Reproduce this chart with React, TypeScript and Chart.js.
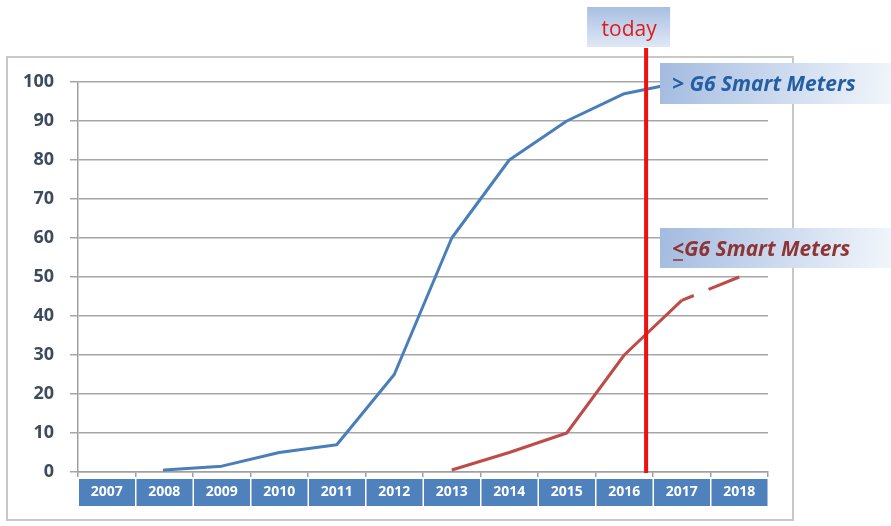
import React, { useEffect, useRef } from 'react';
import { Chart, registerables } from 'chart.js';

Chart.register(...registerables);

const years = ['2007', '2008', '2009', '2010', '2011', '2012', '2013', '2014', '2015', '2016', '2017', '2018'];
const aboveG6 = [null, 0.5, 1.5, 5, 7, 25, 60, 80, 90, 97, 100, null];
const belowG6 = [null, null, null, null, null, null, 0.5, 5, 10, 30, 44, 50];
const yMin = 0;
const yMax = 100;
const yStep = 10;
const todayIndex = 9.38;
const todayLabel = 'today';
const aboveLabel = '> G6 Smart Meters';
const belowLabel = '<G6 Smart Meters';
const forecastFromIndex = 10;

const FONT = '"Open Sans", "Noto Sans", sans-serif';

const decor = {
  id: 'decor',
  beforeDraw(chart: any) {
    const ctx = chart.ctx;
    const xs = chart.scales.x;
    ctx.save();
    ctx.fillStyle = '#ffffff';
    ctx.fillRect(0, 0, chart.width, chart.height);
    ctx.strokeStyle = '#c8c8c8';
    ctx.lineWidth = 2;
    ctx.strokeRect(7, 57, 786, 463);
    const top = chart.chartArea.bottom + 7;
    for (let i = 0; i < years.length; i++) {
      const l = xs.getPixelForValue(i - 0.5);
      const r = xs.getPixelForValue(i + 0.5);
      ctx.fillStyle = '#4f81bd';
      ctx.fillRect(l + 1, top, r - l - 1.5, 27);
    }
    ctx.restore();
  },
  afterDatasetsDraw(chart: any) {
    const ctx = chart.ctx;
    const xs = chart.scales.x;
    const area = chart.chartArea;
    ctx.save();
    // today line
    const tx = xs.getPixelForValue(todayIndex);
    ctx.strokeStyle = '#ee1111';
    ctx.lineWidth = 4;
    ctx.beginPath();
    ctx.moveTo(tx, 48);
    ctx.lineTo(tx, area.bottom + 1);
    ctx.stroke();

    // today box
    const g1 = ctx.createLinearGradient(0, 7, 0, 47);
    g1.addColorStop(0, '#a9bfe2');
    g1.addColorStop(1, '#dfe8f5');
    ctx.fillStyle = g1;
    ctx.fillRect(tx - 59, 7, 83, 40);
    ctx.fillStyle = '#e01b1b';
    ctx.font = `21px ${FONT}`;
    ctx.textAlign = 'center';
    ctx.textBaseline = 'alphabetic';
    ctx.fillText(todayLabel, tx - 17, 36);

    // callout boxes
    const drawBox = (y0: number, h: number) => {
      const g = ctx.createLinearGradient(660, y0, 891, y0 + h);
      g.addColorStop(0, '#a3bbe0');
      g.addColorStop(0.6, '#d3dff1');
      g.addColorStop(1, '#f2f6fb');
      ctx.fillStyle = g;
      ctx.fillRect(660, y0, 231, h);
    };
    drawBox(63, 41);
    drawBox(228, 40);
    ctx.textAlign = 'left';
    ctx.font = `italic bold 21px ${FONT}`;
    ctx.fillStyle = '#245ea3';
    ctx.fillText(aboveLabel, 672, 91);
    ctx.fillStyle = '#8e3434';
    ctx.fillText(belowLabel, 672, 256);
    const w = ctx.measureText('<').width;
    ctx.strokeStyle = '#8e3434';
    ctx.lineWidth = 1.5;
    ctx.beginPath();
    ctx.moveTo(673, 260);
    ctx.lineTo(671 + w, 260);
    ctx.stroke();
    ctx.restore();
  },
};

export default function App() {
  const ref = useRef<HTMLCanvasElement | null>(null);
  useEffect(() => {
    document.body.style.margin = '0';
    const chart = new Chart(ref.current as HTMLCanvasElement, {
      type: 'line',
      data: {
        labels: years,
        datasets: [
          {
            label: aboveLabel,
            data: aboveG6,
            borderColor: '#4a7ebb',
            borderWidth: 3,
            pointRadius: 0,
            tension: 0,
            borderCapStyle: 'round',
            borderJoinStyle: 'round',
          },
          {
            label: belowLabel,
            data: belowG6,
            borderColor: '#be4b48',
            borderWidth: 3,
            pointRadius: 0,
            tension: 0,
            borderCapStyle: 'butt',
            borderJoinStyle: 'round',
            segment: {
              borderDash: (c: any) => (c.p0DataIndex >= forecastFromIndex ? [13, 16, 34, 10] : undefined),
            },
          },
        ],
      },
      options: {
        animation: false,
        responsive: true,
        maintainAspectRatio: false,
        layout: { padding: { left: 0, top: 82, right: 123, bottom: 14 } },
        plugins: { legend: { display: false }, tooltip: { enabled: false } },
        scales: {
          x: {
            offset: true,
            afterFit: (s: any) => {
              s.height = 40;
            },
            border: { display: true, color: '#a0a0a0', width: 1.5 },
            grid: { display: true, drawOnChartArea: false, drawTicks: true, tickLength: 5, color: '#a0a0a0', lineWidth: 1.5, offset: true },
            ticks: { color: '#ffffff', font: { family: FONT, size: 14, weight: 'bold' }, padding: 7, maxRotation: 0, autoSkip: false },
          },
          y: {
            min: yMin,
            max: yMax,
            afterFit: (s: any) => {
              s.width = 78;
            },
            border: { display: true, color: '#a0a0a0', width: 1.5 },
            grid: { color: '#a6a6a6', lineWidth: 1.5, tickLength: 8, drawTicks: true },
            ticks: { stepSize: yStep, color: '#3d4b5f', font: { family: FONT, size: 18, weight: 'bold' }, padding: 16 },
          },
        },
      },
      plugins: [decor],
    });
    return () => chart.destroy();
  }, []);
  return (
    <div style={{ position: 'fixed', left: 0, top: 0, width: 891, height: 526 }}>
      <canvas ref={ref} />
    </div>
  );
}
